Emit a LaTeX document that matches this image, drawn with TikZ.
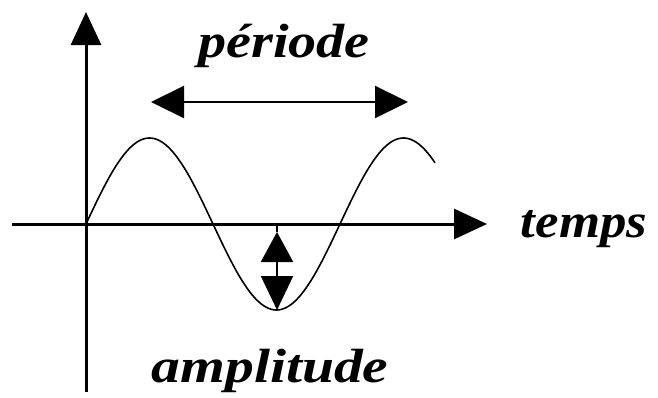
\documentclass[tikz,border=0pt]{standalone}
\usepackage{fontspec}
\setmainfont{Liberation Serif}
\usetikzlibrary{arrows.meta}
\tikzset{
  axisline/.style={line width=3pt, -{Triangle[length=33pt,width=30pt]}},
  biarrow/.style={line width=2.2pt, {Triangle[length=33pt,width=32pt]}-{Triangle[length=33pt,width=32pt]}},
  amparrow/.style={line width=2pt, {Triangle[length=30pt,width=32pt]}-{Triangle[length=34pt,width=32pt]}},
  wave/.style={line width=1.6pt},
  lbl/.style={anchor=base, inner sep=0pt, font=\fontsize{48}{52}\selectfont\bfseries\itshape}
}
\begin{document}
\begin{tikzpicture}[x=1pt,y=-1pt]
\useasboundingbox (0,0) rectangle (658,397);
% key points
\coordinate (origin) at (86,224);
\coordinate (ybottom) at (86,392);
\coordinate (ytop) at (86,12);
\coordinate (xleft) at (12,224);
\coordinate (xright) at (487,224);
\coordinate (pl) at (151,102);
\coordinate (pr) at (408,102);
\coordinate (atop) at (277,232);
\coordinate (abot) at (277,310);
\coordinate (aaxis) at (277,224);
% axes
\draw[axisline] (ybottom) -- (ytop);
\draw[axisline] (xleft) -- (xright);
% wave
\draw[wave] plot[domain=86:435, samples=150] (\x, {224 - 86*sin(1.41732*(\x-86))});
% period arrow
\draw[biarrow] (pl) -- (pr);
% amplitude arrow
\draw[line width=2pt] (aaxis) -- (atop);
\draw[amparrow] (atop) -- (abot);
% labels
\node[lbl] (periode) at (284,57) {\scalebox{1.17}[1]{période}};
\node[lbl] (temps) at (584,237) {\scalebox{1.1}[1]{temps}};
\node[lbl] (ampl) at (270,382) {\scalebox{1.2}[1]{amplitude}};
\end{tikzpicture}
\end{document}
